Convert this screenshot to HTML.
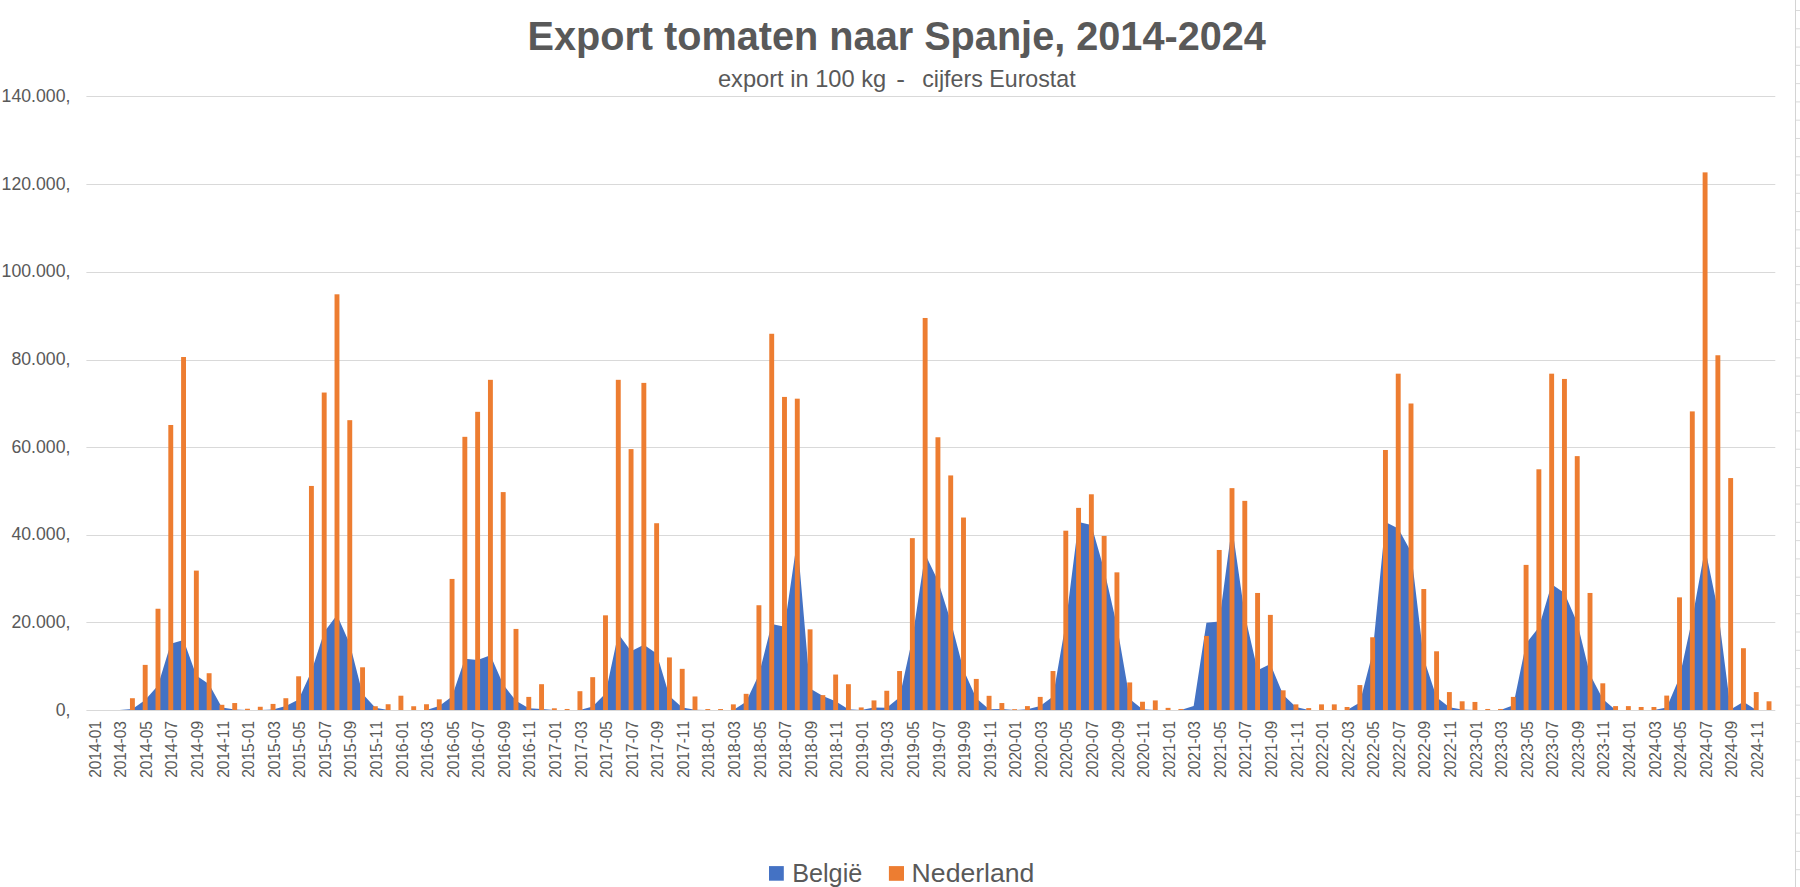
<!DOCTYPE html>
<html><head><meta charset="utf-8"><title>Export tomaten naar Spanje, 2014-2024</title>
<style>
html,body{margin:0;padding:0;background:#fff;}
body{width:1800px;height:887px;overflow:hidden;position:relative;}
svg{position:absolute;left:0;top:0;}
text{font-family:"Liberation Sans",Arial,sans-serif;fill:#595959;white-space:pre;font-kerning:none;}
</style></head><body>
<svg width="1800" height="887" viewBox="0 0 1800 887">
<rect x="86.4" y="710" width="1688.9" height="1" fill="#d9d9d9"/>
<rect x="86.4" y="622" width="1688.9" height="1" fill="#d9d9d9"/>
<rect x="86.4" y="535" width="1688.9" height="1" fill="#d9d9d9"/>
<rect x="86.4" y="447" width="1688.9" height="1" fill="#d9d9d9"/>
<rect x="86.4" y="360" width="1688.9" height="1" fill="#d9d9d9"/>
<rect x="86.4" y="272" width="1688.9" height="1" fill="#d9d9d9"/>
<rect x="86.4" y="184" width="1688.9" height="1" fill="#d9d9d9"/>
<rect x="86.4" y="96" width="1688.9" height="1" fill="#d9d9d9"/>
<polygon points="94.05,710.00 94.05,710.00 106.84,710.00 119.62,710.00 132.41,708.97 145.19,699.97 157.98,685.50 170.77,643.84 183.55,639.89 196.34,675.41 209.12,684.19 221.91,707.43 234.70,709.62 247.48,710.00 260.27,710.00 273.05,709.62 285.84,706.11 298.63,699.54 311.41,671.47 324.20,632.00 336.98,614.89 349.77,643.84 362.56,693.83 375.34,707.87 388.13,710.00 400.91,710.00 413.70,710.00 426.49,710.00 439.27,706.11 452.06,696.47 464.84,658.75 477.63,660.06 490.42,655.24 503.20,684.62 515.99,700.85 528.77,708.31 541.56,708.97 554.35,710.00 567.13,710.00 579.92,710.00 592.70,706.55 605.49,693.40 618.28,633.75 631.06,651.29 643.85,644.71 656.63,653.49 669.42,696.03 682.21,707.43 694.99,709.84 707.78,710.00 720.56,710.00 733.35,710.00 746.14,701.73 758.92,674.54 771.71,624.10 784.49,626.73 797.28,539.46 810.07,688.57 822.85,696.03 835.64,701.29 848.42,709.18 861.21,710.00 874.00,707.43 886.78,707.87 899.57,697.34 912.35,638.57 925.14,553.93 937.93,580.68 950.71,621.03 963.50,669.71 976.28,698.22 989.07,709.18 1001.86,708.97 1014.64,710.00 1027.43,709.18 1040.21,706.11 1053.00,696.47 1065.79,622.79 1078.57,521.91 1091.36,524.98 1104.14,569.72 1116.93,625.42 1129.72,699.10 1142.50,709.18 1155.29,710.00 1168.07,710.00 1180.86,710.00 1193.65,706.11 1206.43,622.79 1219.22,621.47 1232.00,526.30 1244.79,614.89 1257.58,670.15 1270.36,664.01 1283.15,694.71 1295.93,706.99 1308.72,710.00 1321.51,710.00 1334.29,710.00 1347.08,710.00 1359.86,702.61 1372.65,652.61 1385.44,521.91 1398.22,528.49 1411.01,551.74 1423.79,658.75 1436.58,697.34 1449.37,707.21 1462.15,709.62 1474.94,710.00 1487.72,710.00 1500.51,710.00 1513.30,705.24 1526.08,643.40 1538.87,627.17 1551.65,584.19 1564.44,592.96 1577.23,622.79 1590.01,674.54 1602.80,699.10 1615.58,710.00 1628.37,710.00 1641.16,710.00 1653.94,710.00 1666.73,707.43 1679.51,677.61 1692.30,618.40 1705.09,548.23 1717.87,609.63 1730.66,709.62 1743.44,701.73 1756.23,710.00 1769.02,710.00 1769.02,710.00" fill="#4472c4"/>
<rect x="129.96" y="698.22" width="4.9" height="11.78" fill="#ed7d31"/>
<rect x="142.74" y="664.89" width="4.9" height="45.11" fill="#ed7d31"/>
<rect x="155.53" y="608.75" width="4.9" height="101.25" fill="#ed7d31"/>
<rect x="168.32" y="424.99" width="4.9" height="285.01" fill="#ed7d31"/>
<rect x="181.10" y="357.01" width="4.9" height="352.99" fill="#ed7d31"/>
<rect x="193.89" y="570.60" width="4.9" height="139.40" fill="#ed7d31"/>
<rect x="206.67" y="673.22" width="4.9" height="36.78" fill="#ed7d31"/>
<rect x="219.46" y="704.80" width="4.9" height="5.20" fill="#ed7d31"/>
<rect x="232.25" y="703.04" width="4.9" height="6.96" fill="#ed7d31"/>
<rect x="245.03" y="708.75" width="4.9" height="1.25" fill="#ed7d31"/>
<rect x="257.82" y="706.77" width="4.9" height="3.23" fill="#ed7d31"/>
<rect x="270.60" y="703.92" width="4.9" height="6.08" fill="#ed7d31"/>
<rect x="283.39" y="698.22" width="4.9" height="11.78" fill="#ed7d31"/>
<rect x="296.18" y="676.29" width="4.9" height="33.71" fill="#ed7d31"/>
<rect x="308.96" y="485.95" width="4.9" height="224.05" fill="#ed7d31"/>
<rect x="321.75" y="392.54" width="4.9" height="317.46" fill="#ed7d31"/>
<rect x="334.53" y="294.30" width="4.9" height="415.70" fill="#ed7d31"/>
<rect x="347.32" y="420.17" width="4.9" height="289.83" fill="#ed7d31"/>
<rect x="360.11" y="667.30" width="4.9" height="42.70" fill="#ed7d31"/>
<rect x="372.89" y="706.25" width="4.9" height="3.75" fill="#ed7d31"/>
<rect x="385.68" y="704.23" width="4.9" height="5.77" fill="#ed7d31"/>
<rect x="398.46" y="695.72" width="4.9" height="14.28" fill="#ed7d31"/>
<rect x="411.25" y="706.25" width="4.9" height="3.75" fill="#ed7d31"/>
<rect x="424.04" y="704.23" width="4.9" height="5.77" fill="#ed7d31"/>
<rect x="436.82" y="699.32" width="4.9" height="10.68" fill="#ed7d31"/>
<rect x="449.61" y="578.93" width="4.9" height="131.07" fill="#ed7d31"/>
<rect x="462.39" y="436.83" width="4.9" height="273.17" fill="#ed7d31"/>
<rect x="475.18" y="411.83" width="4.9" height="298.17" fill="#ed7d31"/>
<rect x="487.97" y="379.82" width="4.9" height="330.18" fill="#ed7d31"/>
<rect x="500.75" y="492.09" width="4.9" height="217.91" fill="#ed7d31"/>
<rect x="513.54" y="628.93" width="4.9" height="81.07" fill="#ed7d31"/>
<rect x="526.32" y="696.90" width="4.9" height="13.10" fill="#ed7d31"/>
<rect x="539.11" y="684.19" width="4.9" height="25.81" fill="#ed7d31"/>
<rect x="551.90" y="708.31" width="4.9" height="1.69" fill="#ed7d31"/>
<rect x="564.68" y="708.97" width="4.9" height="1.03" fill="#ed7d31"/>
<rect x="577.47" y="691.20" width="4.9" height="18.80" fill="#ed7d31"/>
<rect x="590.25" y="677.17" width="4.9" height="32.83" fill="#ed7d31"/>
<rect x="603.04" y="615.33" width="4.9" height="94.67" fill="#ed7d31"/>
<rect x="615.83" y="379.82" width="4.9" height="330.18" fill="#ed7d31"/>
<rect x="628.61" y="449.11" width="4.9" height="260.89" fill="#ed7d31"/>
<rect x="641.40" y="382.89" width="4.9" height="327.11" fill="#ed7d31"/>
<rect x="654.18" y="523.23" width="4.9" height="186.77" fill="#ed7d31"/>
<rect x="666.97" y="657.43" width="4.9" height="52.57" fill="#ed7d31"/>
<rect x="679.76" y="668.84" width="4.9" height="41.16" fill="#ed7d31"/>
<rect x="692.54" y="696.47" width="4.9" height="13.53" fill="#ed7d31"/>
<rect x="705.33" y="709.05" width="4.9" height="0.95" fill="#ed7d31"/>
<rect x="718.11" y="709.05" width="4.9" height="0.95" fill="#ed7d31"/>
<rect x="730.90" y="704.36" width="4.9" height="5.64" fill="#ed7d31"/>
<rect x="743.69" y="693.83" width="4.9" height="16.17" fill="#ed7d31"/>
<rect x="756.47" y="605.24" width="4.9" height="104.76" fill="#ed7d31"/>
<rect x="769.26" y="333.77" width="4.9" height="376.23" fill="#ed7d31"/>
<rect x="782.04" y="396.92" width="4.9" height="313.08" fill="#ed7d31"/>
<rect x="794.83" y="398.68" width="4.9" height="311.32" fill="#ed7d31"/>
<rect x="807.62" y="629.36" width="4.9" height="80.64" fill="#ed7d31"/>
<rect x="820.40" y="695.15" width="4.9" height="14.85" fill="#ed7d31"/>
<rect x="833.19" y="674.54" width="4.9" height="35.46" fill="#ed7d31"/>
<rect x="845.97" y="684.19" width="4.9" height="25.81" fill="#ed7d31"/>
<rect x="858.76" y="707.43" width="4.9" height="2.57" fill="#ed7d31"/>
<rect x="871.55" y="700.41" width="4.9" height="9.59" fill="#ed7d31"/>
<rect x="884.33" y="690.76" width="4.9" height="19.24" fill="#ed7d31"/>
<rect x="897.12" y="671.03" width="4.9" height="38.97" fill="#ed7d31"/>
<rect x="909.90" y="538.14" width="4.9" height="171.86" fill="#ed7d31"/>
<rect x="922.69" y="317.98" width="4.9" height="392.02" fill="#ed7d31"/>
<rect x="935.48" y="437.27" width="4.9" height="272.73" fill="#ed7d31"/>
<rect x="948.26" y="475.43" width="4.9" height="234.57" fill="#ed7d31"/>
<rect x="961.05" y="517.53" width="4.9" height="192.47" fill="#ed7d31"/>
<rect x="973.83" y="678.92" width="4.9" height="31.08" fill="#ed7d31"/>
<rect x="986.62" y="695.81" width="4.9" height="14.19" fill="#ed7d31"/>
<rect x="999.41" y="703.04" width="4.9" height="6.96" fill="#ed7d31"/>
<rect x="1012.19" y="709.18" width="4.9" height="0.82" fill="#ed7d31"/>
<rect x="1024.98" y="706.11" width="4.9" height="3.89" fill="#ed7d31"/>
<rect x="1037.76" y="696.90" width="4.9" height="13.10" fill="#ed7d31"/>
<rect x="1050.55" y="671.03" width="4.9" height="38.97" fill="#ed7d31"/>
<rect x="1063.34" y="530.69" width="4.9" height="179.31" fill="#ed7d31"/>
<rect x="1076.12" y="507.88" width="4.9" height="202.12" fill="#ed7d31"/>
<rect x="1088.91" y="494.28" width="4.9" height="215.72" fill="#ed7d31"/>
<rect x="1101.69" y="535.95" width="4.9" height="174.05" fill="#ed7d31"/>
<rect x="1114.48" y="572.35" width="4.9" height="137.65" fill="#ed7d31"/>
<rect x="1127.27" y="682.43" width="4.9" height="27.57" fill="#ed7d31"/>
<rect x="1140.05" y="701.73" width="4.9" height="8.27" fill="#ed7d31"/>
<rect x="1152.84" y="700.41" width="4.9" height="9.59" fill="#ed7d31"/>
<rect x="1165.62" y="707.87" width="4.9" height="2.13" fill="#ed7d31"/>
<rect x="1178.41" y="708.97" width="4.9" height="1.03" fill="#ed7d31"/>
<rect x="1203.98" y="635.94" width="4.9" height="74.06" fill="#ed7d31"/>
<rect x="1216.77" y="549.98" width="4.9" height="160.02" fill="#ed7d31"/>
<rect x="1229.55" y="488.15" width="4.9" height="221.85" fill="#ed7d31"/>
<rect x="1242.34" y="500.86" width="4.9" height="209.14" fill="#ed7d31"/>
<rect x="1255.13" y="592.96" width="4.9" height="117.04" fill="#ed7d31"/>
<rect x="1267.91" y="614.89" width="4.9" height="95.11" fill="#ed7d31"/>
<rect x="1280.70" y="690.33" width="4.9" height="19.67" fill="#ed7d31"/>
<rect x="1293.48" y="704.36" width="4.9" height="5.64" fill="#ed7d31"/>
<rect x="1306.27" y="708.09" width="4.9" height="1.91" fill="#ed7d31"/>
<rect x="1319.06" y="704.36" width="4.9" height="5.64" fill="#ed7d31"/>
<rect x="1331.84" y="704.36" width="4.9" height="5.64" fill="#ed7d31"/>
<rect x="1344.63" y="706.99" width="4.9" height="3.01" fill="#ed7d31"/>
<rect x="1357.41" y="685.06" width="4.9" height="24.94" fill="#ed7d31"/>
<rect x="1370.20" y="637.26" width="4.9" height="72.74" fill="#ed7d31"/>
<rect x="1382.99" y="449.99" width="4.9" height="260.01" fill="#ed7d31"/>
<rect x="1395.77" y="373.68" width="4.9" height="336.32" fill="#ed7d31"/>
<rect x="1408.56" y="403.50" width="4.9" height="306.50" fill="#ed7d31"/>
<rect x="1421.34" y="589.02" width="4.9" height="120.98" fill="#ed7d31"/>
<rect x="1434.13" y="651.29" width="4.9" height="58.71" fill="#ed7d31"/>
<rect x="1446.92" y="692.08" width="4.9" height="17.92" fill="#ed7d31"/>
<rect x="1459.70" y="701.29" width="4.9" height="8.71" fill="#ed7d31"/>
<rect x="1472.49" y="701.95" width="4.9" height="8.05" fill="#ed7d31"/>
<rect x="1485.27" y="708.97" width="4.9" height="1.03" fill="#ed7d31"/>
<rect x="1498.06" y="708.97" width="4.9" height="1.03" fill="#ed7d31"/>
<rect x="1510.85" y="696.90" width="4.9" height="13.10" fill="#ed7d31"/>
<rect x="1523.63" y="564.89" width="4.9" height="145.11" fill="#ed7d31"/>
<rect x="1536.42" y="469.29" width="4.9" height="240.71" fill="#ed7d31"/>
<rect x="1549.20" y="373.68" width="4.9" height="336.32" fill="#ed7d31"/>
<rect x="1561.99" y="378.94" width="4.9" height="331.06" fill="#ed7d31"/>
<rect x="1574.78" y="456.13" width="4.9" height="253.87" fill="#ed7d31"/>
<rect x="1587.56" y="592.96" width="4.9" height="117.04" fill="#ed7d31"/>
<rect x="1600.35" y="683.31" width="4.9" height="26.69" fill="#ed7d31"/>
<rect x="1613.13" y="706.11" width="4.9" height="3.89" fill="#ed7d31"/>
<rect x="1625.92" y="706.11" width="4.9" height="3.89" fill="#ed7d31"/>
<rect x="1638.71" y="706.99" width="4.9" height="3.01" fill="#ed7d31"/>
<rect x="1651.49" y="706.99" width="4.9" height="3.01" fill="#ed7d31"/>
<rect x="1664.28" y="695.59" width="4.9" height="14.41" fill="#ed7d31"/>
<rect x="1677.06" y="597.35" width="4.9" height="112.65" fill="#ed7d31"/>
<rect x="1689.85" y="411.40" width="4.9" height="298.60" fill="#ed7d31"/>
<rect x="1702.64" y="172.37" width="4.9" height="537.63" fill="#ed7d31"/>
<rect x="1715.42" y="355.26" width="4.9" height="354.74" fill="#ed7d31"/>
<rect x="1728.21" y="478.06" width="4.9" height="231.94" fill="#ed7d31"/>
<rect x="1740.99" y="648.22" width="4.9" height="61.78" fill="#ed7d31"/>
<rect x="1753.78" y="692.08" width="4.9" height="17.92" fill="#ed7d31"/>
<rect x="1766.57" y="701.29" width="4.9" height="8.71" fill="#ed7d31"/>
<text x="55.65" y="715.80" font-size="18.2" textLength="14.74" lengthAdjust="spacingAndGlyphs">0,</text>
<text x="11.43" y="628.09" font-size="18.2" textLength="58.96" lengthAdjust="spacingAndGlyphs">20.000,</text>
<text x="11.43" y="540.37" font-size="18.2" textLength="58.96" lengthAdjust="spacingAndGlyphs">40.000,</text>
<text x="11.43" y="452.66" font-size="18.2" textLength="58.96" lengthAdjust="spacingAndGlyphs">60.000,</text>
<text x="11.43" y="364.94" font-size="18.2" textLength="58.96" lengthAdjust="spacingAndGlyphs">80.000,</text>
<text x="1.60" y="277.23" font-size="18.2" textLength="68.79" lengthAdjust="spacingAndGlyphs">100.000,</text>
<text x="1.60" y="189.52" font-size="18.2" textLength="68.79" lengthAdjust="spacingAndGlyphs">120.000,</text>
<text x="1.60" y="101.80" font-size="18.2" textLength="68.79" lengthAdjust="spacingAndGlyphs">140.000,</text>
<text transform="translate(100.65,777.78) rotate(-90)" x="0" y="0" font-size="16.1" textLength="56.84" lengthAdjust="spacingAndGlyphs">2014-01</text>
<text transform="translate(126.22,777.86) rotate(-90)" x="0" y="0" font-size="16.1" textLength="56.84" lengthAdjust="spacingAndGlyphs">2014-03</text>
<text transform="translate(151.79,777.89) rotate(-90)" x="0" y="0" font-size="16.1" textLength="56.84" lengthAdjust="spacingAndGlyphs">2014-05</text>
<text transform="translate(177.37,777.76) rotate(-90)" x="0" y="0" font-size="16.1" textLength="56.84" lengthAdjust="spacingAndGlyphs">2014-07</text>
<text transform="translate(202.94,777.81) rotate(-90)" x="0" y="0" font-size="16.1" textLength="56.84" lengthAdjust="spacingAndGlyphs">2014-09</text>
<text transform="translate(228.51,777.78) rotate(-90)" x="0" y="0" font-size="16.1" textLength="56.84" lengthAdjust="spacingAndGlyphs">2014-11</text>
<text transform="translate(254.08,777.78) rotate(-90)" x="0" y="0" font-size="16.1" textLength="56.84" lengthAdjust="spacingAndGlyphs">2015-01</text>
<text transform="translate(279.65,777.86) rotate(-90)" x="0" y="0" font-size="16.1" textLength="56.84" lengthAdjust="spacingAndGlyphs">2015-03</text>
<text transform="translate(305.23,777.89) rotate(-90)" x="0" y="0" font-size="16.1" textLength="56.84" lengthAdjust="spacingAndGlyphs">2015-05</text>
<text transform="translate(330.80,777.76) rotate(-90)" x="0" y="0" font-size="16.1" textLength="56.84" lengthAdjust="spacingAndGlyphs">2015-07</text>
<text transform="translate(356.37,777.81) rotate(-90)" x="0" y="0" font-size="16.1" textLength="56.84" lengthAdjust="spacingAndGlyphs">2015-09</text>
<text transform="translate(381.94,777.78) rotate(-90)" x="0" y="0" font-size="16.1" textLength="56.84" lengthAdjust="spacingAndGlyphs">2015-11</text>
<text transform="translate(407.51,777.78) rotate(-90)" x="0" y="0" font-size="16.1" textLength="56.84" lengthAdjust="spacingAndGlyphs">2016-01</text>
<text transform="translate(433.09,777.86) rotate(-90)" x="0" y="0" font-size="16.1" textLength="56.84" lengthAdjust="spacingAndGlyphs">2016-03</text>
<text transform="translate(458.66,777.89) rotate(-90)" x="0" y="0" font-size="16.1" textLength="56.84" lengthAdjust="spacingAndGlyphs">2016-05</text>
<text transform="translate(484.23,777.76) rotate(-90)" x="0" y="0" font-size="16.1" textLength="56.84" lengthAdjust="spacingAndGlyphs">2016-07</text>
<text transform="translate(509.80,777.81) rotate(-90)" x="0" y="0" font-size="16.1" textLength="56.84" lengthAdjust="spacingAndGlyphs">2016-09</text>
<text transform="translate(535.37,777.78) rotate(-90)" x="0" y="0" font-size="16.1" textLength="56.84" lengthAdjust="spacingAndGlyphs">2016-11</text>
<text transform="translate(560.95,777.78) rotate(-90)" x="0" y="0" font-size="16.1" textLength="56.84" lengthAdjust="spacingAndGlyphs">2017-01</text>
<text transform="translate(586.52,777.86) rotate(-90)" x="0" y="0" font-size="16.1" textLength="56.84" lengthAdjust="spacingAndGlyphs">2017-03</text>
<text transform="translate(612.09,777.89) rotate(-90)" x="0" y="0" font-size="16.1" textLength="56.84" lengthAdjust="spacingAndGlyphs">2017-05</text>
<text transform="translate(637.66,777.76) rotate(-90)" x="0" y="0" font-size="16.1" textLength="56.84" lengthAdjust="spacingAndGlyphs">2017-07</text>
<text transform="translate(663.23,777.81) rotate(-90)" x="0" y="0" font-size="16.1" textLength="56.84" lengthAdjust="spacingAndGlyphs">2017-09</text>
<text transform="translate(688.81,777.78) rotate(-90)" x="0" y="0" font-size="16.1" textLength="56.84" lengthAdjust="spacingAndGlyphs">2017-11</text>
<text transform="translate(714.38,777.78) rotate(-90)" x="0" y="0" font-size="16.1" textLength="56.84" lengthAdjust="spacingAndGlyphs">2018-01</text>
<text transform="translate(739.95,777.86) rotate(-90)" x="0" y="0" font-size="16.1" textLength="56.84" lengthAdjust="spacingAndGlyphs">2018-03</text>
<text transform="translate(765.52,777.89) rotate(-90)" x="0" y="0" font-size="16.1" textLength="56.84" lengthAdjust="spacingAndGlyphs">2018-05</text>
<text transform="translate(791.09,777.76) rotate(-90)" x="0" y="0" font-size="16.1" textLength="56.84" lengthAdjust="spacingAndGlyphs">2018-07</text>
<text transform="translate(816.67,777.81) rotate(-90)" x="0" y="0" font-size="16.1" textLength="56.84" lengthAdjust="spacingAndGlyphs">2018-09</text>
<text transform="translate(842.24,777.78) rotate(-90)" x="0" y="0" font-size="16.1" textLength="56.84" lengthAdjust="spacingAndGlyphs">2018-11</text>
<text transform="translate(867.81,777.78) rotate(-90)" x="0" y="0" font-size="16.1" textLength="56.84" lengthAdjust="spacingAndGlyphs">2019-01</text>
<text transform="translate(893.38,777.86) rotate(-90)" x="0" y="0" font-size="16.1" textLength="56.84" lengthAdjust="spacingAndGlyphs">2019-03</text>
<text transform="translate(918.95,777.89) rotate(-90)" x="0" y="0" font-size="16.1" textLength="56.84" lengthAdjust="spacingAndGlyphs">2019-05</text>
<text transform="translate(944.53,777.76) rotate(-90)" x="0" y="0" font-size="16.1" textLength="56.84" lengthAdjust="spacingAndGlyphs">2019-07</text>
<text transform="translate(970.10,777.81) rotate(-90)" x="0" y="0" font-size="16.1" textLength="56.84" lengthAdjust="spacingAndGlyphs">2019-09</text>
<text transform="translate(995.67,777.78) rotate(-90)" x="0" y="0" font-size="16.1" textLength="56.84" lengthAdjust="spacingAndGlyphs">2019-11</text>
<text transform="translate(1021.24,777.78) rotate(-90)" x="0" y="0" font-size="16.1" textLength="56.84" lengthAdjust="spacingAndGlyphs">2020-01</text>
<text transform="translate(1046.81,777.86) rotate(-90)" x="0" y="0" font-size="16.1" textLength="56.84" lengthAdjust="spacingAndGlyphs">2020-03</text>
<text transform="translate(1072.39,777.89) rotate(-90)" x="0" y="0" font-size="16.1" textLength="56.84" lengthAdjust="spacingAndGlyphs">2020-05</text>
<text transform="translate(1097.96,777.76) rotate(-90)" x="0" y="0" font-size="16.1" textLength="56.84" lengthAdjust="spacingAndGlyphs">2020-07</text>
<text transform="translate(1123.53,777.81) rotate(-90)" x="0" y="0" font-size="16.1" textLength="56.84" lengthAdjust="spacingAndGlyphs">2020-09</text>
<text transform="translate(1149.10,777.78) rotate(-90)" x="0" y="0" font-size="16.1" textLength="56.84" lengthAdjust="spacingAndGlyphs">2020-11</text>
<text transform="translate(1174.67,777.78) rotate(-90)" x="0" y="0" font-size="16.1" textLength="56.84" lengthAdjust="spacingAndGlyphs">2021-01</text>
<text transform="translate(1200.25,777.86) rotate(-90)" x="0" y="0" font-size="16.1" textLength="56.84" lengthAdjust="spacingAndGlyphs">2021-03</text>
<text transform="translate(1225.82,777.89) rotate(-90)" x="0" y="0" font-size="16.1" textLength="56.84" lengthAdjust="spacingAndGlyphs">2021-05</text>
<text transform="translate(1251.39,777.76) rotate(-90)" x="0" y="0" font-size="16.1" textLength="56.84" lengthAdjust="spacingAndGlyphs">2021-07</text>
<text transform="translate(1276.96,777.81) rotate(-90)" x="0" y="0" font-size="16.1" textLength="56.84" lengthAdjust="spacingAndGlyphs">2021-09</text>
<text transform="translate(1302.53,777.78) rotate(-90)" x="0" y="0" font-size="16.1" textLength="56.84" lengthAdjust="spacingAndGlyphs">2021-11</text>
<text transform="translate(1328.11,777.78) rotate(-90)" x="0" y="0" font-size="16.1" textLength="56.84" lengthAdjust="spacingAndGlyphs">2022-01</text>
<text transform="translate(1353.68,777.86) rotate(-90)" x="0" y="0" font-size="16.1" textLength="56.84" lengthAdjust="spacingAndGlyphs">2022-03</text>
<text transform="translate(1379.25,777.89) rotate(-90)" x="0" y="0" font-size="16.1" textLength="56.84" lengthAdjust="spacingAndGlyphs">2022-05</text>
<text transform="translate(1404.82,777.76) rotate(-90)" x="0" y="0" font-size="16.1" textLength="56.84" lengthAdjust="spacingAndGlyphs">2022-07</text>
<text transform="translate(1430.39,777.81) rotate(-90)" x="0" y="0" font-size="16.1" textLength="56.84" lengthAdjust="spacingAndGlyphs">2022-09</text>
<text transform="translate(1455.97,777.78) rotate(-90)" x="0" y="0" font-size="16.1" textLength="56.84" lengthAdjust="spacingAndGlyphs">2022-11</text>
<text transform="translate(1481.54,777.78) rotate(-90)" x="0" y="0" font-size="16.1" textLength="56.84" lengthAdjust="spacingAndGlyphs">2023-01</text>
<text transform="translate(1507.11,777.86) rotate(-90)" x="0" y="0" font-size="16.1" textLength="56.84" lengthAdjust="spacingAndGlyphs">2023-03</text>
<text transform="translate(1532.68,777.89) rotate(-90)" x="0" y="0" font-size="16.1" textLength="56.84" lengthAdjust="spacingAndGlyphs">2023-05</text>
<text transform="translate(1558.25,777.76) rotate(-90)" x="0" y="0" font-size="16.1" textLength="56.84" lengthAdjust="spacingAndGlyphs">2023-07</text>
<text transform="translate(1583.83,777.81) rotate(-90)" x="0" y="0" font-size="16.1" textLength="56.84" lengthAdjust="spacingAndGlyphs">2023-09</text>
<text transform="translate(1609.40,777.78) rotate(-90)" x="0" y="0" font-size="16.1" textLength="56.84" lengthAdjust="spacingAndGlyphs">2023-11</text>
<text transform="translate(1634.97,777.78) rotate(-90)" x="0" y="0" font-size="16.1" textLength="56.84" lengthAdjust="spacingAndGlyphs">2024-01</text>
<text transform="translate(1660.54,777.86) rotate(-90)" x="0" y="0" font-size="16.1" textLength="56.84" lengthAdjust="spacingAndGlyphs">2024-03</text>
<text transform="translate(1686.11,777.89) rotate(-90)" x="0" y="0" font-size="16.1" textLength="56.84" lengthAdjust="spacingAndGlyphs">2024-05</text>
<text transform="translate(1711.69,777.76) rotate(-90)" x="0" y="0" font-size="16.1" textLength="56.84" lengthAdjust="spacingAndGlyphs">2024-07</text>
<text transform="translate(1737.26,777.81) rotate(-90)" x="0" y="0" font-size="16.1" textLength="56.84" lengthAdjust="spacingAndGlyphs">2024-09</text>
<text transform="translate(1762.83,777.78) rotate(-90)" x="0" y="0" font-size="16.1" textLength="56.84" lengthAdjust="spacingAndGlyphs">2024-11</text>
<text x="527.45" y="49.70" font-size="41.4" font-weight="bold" textLength="738.47" lengthAdjust="spacingAndGlyphs">Export tomaten naar Spanje, 2014-2024</text>
<text x="717.90" y="86.80" font-size="24.3" textLength="168.33" lengthAdjust="spacingAndGlyphs">export in 100 kg</text>
<text x="896.34" y="86.80" font-size="24.3" textLength="8.73" lengthAdjust="spacingAndGlyphs">-</text>
<text x="922.21" y="86.80" font-size="24.3" textLength="153.46" lengthAdjust="spacingAndGlyphs">cijfers Eurostat</text>
<rect x="769.0" y="866.1" width="14.8" height="14.6" fill="#4472c4"/>
<rect x="888.9" y="866.1" width="15.1" height="14.7" fill="#ed7d31"/>
<text x="792.13" y="881.80" font-size="25.7" textLength="70.19" lengthAdjust="spacingAndGlyphs">België</text>
<text x="911.62" y="881.80" font-size="25.7" textLength="122.80" lengthAdjust="spacingAndGlyphs">Nederland</text>
<rect x="1795" y="0" width="1" height="887" fill="#d4d4d4"/>
<rect x="1796" y="10.00" width="4" height="1" fill="#dadada"/>
<rect x="1796" y="28.28" width="4" height="1" fill="#dadada"/>
<rect x="1796" y="46.56" width="4" height="1" fill="#dadada"/>
<rect x="1796" y="64.84" width="4" height="1" fill="#dadada"/>
<rect x="1796" y="83.12" width="4" height="1" fill="#dadada"/>
<rect x="1796" y="101.40" width="4" height="1" fill="#dadada"/>
<rect x="1796" y="119.68" width="4" height="1" fill="#dadada"/>
<rect x="1796" y="137.96" width="4" height="1" fill="#dadada"/>
<rect x="1796" y="156.24" width="4" height="1" fill="#dadada"/>
<rect x="1796" y="174.52" width="4" height="1" fill="#dadada"/>
<rect x="1796" y="192.80" width="4" height="1" fill="#dadada"/>
<rect x="1796" y="211.08" width="4" height="1" fill="#dadada"/>
<rect x="1796" y="229.36" width="4" height="1" fill="#dadada"/>
<rect x="1796" y="247.64" width="4" height="1" fill="#dadada"/>
<rect x="1796" y="265.92" width="4" height="1" fill="#dadada"/>
<rect x="1796" y="284.20" width="4" height="1" fill="#dadada"/>
<rect x="1796" y="302.48" width="4" height="1" fill="#dadada"/>
<rect x="1796" y="320.76" width="4" height="1" fill="#dadada"/>
<rect x="1796" y="339.04" width="4" height="1" fill="#dadada"/>
<rect x="1796" y="357.32" width="4" height="1" fill="#dadada"/>
<rect x="1796" y="375.60" width="4" height="1" fill="#dadada"/>
<rect x="1796" y="393.88" width="4" height="1" fill="#dadada"/>
<rect x="1796" y="412.16" width="4" height="1" fill="#dadada"/>
<rect x="1796" y="430.44" width="4" height="1" fill="#dadada"/>
<rect x="1796" y="448.72" width="4" height="1" fill="#dadada"/>
<rect x="1796" y="467.00" width="4" height="1" fill="#dadada"/>
<rect x="1796" y="485.28" width="4" height="1" fill="#dadada"/>
<rect x="1796" y="503.56" width="4" height="1" fill="#dadada"/>
<rect x="1796" y="521.84" width="4" height="1" fill="#dadada"/>
<rect x="1796" y="540.12" width="4" height="1" fill="#dadada"/>
<rect x="1796" y="558.40" width="4" height="1" fill="#dadada"/>
<rect x="1796" y="576.68" width="4" height="1" fill="#dadada"/>
<rect x="1796" y="594.96" width="4" height="1" fill="#dadada"/>
<rect x="1796" y="613.24" width="4" height="1" fill="#dadada"/>
<rect x="1796" y="631.52" width="4" height="1" fill="#dadada"/>
<rect x="1796" y="649.80" width="4" height="1" fill="#dadada"/>
<rect x="1796" y="668.08" width="4" height="1" fill="#dadada"/>
<rect x="1796" y="686.36" width="4" height="1" fill="#dadada"/>
<rect x="1796" y="704.64" width="4" height="1" fill="#dadada"/>
<rect x="1796" y="722.92" width="4" height="1" fill="#dadada"/>
<rect x="1796" y="741.20" width="4" height="1" fill="#dadada"/>
<rect x="1796" y="759.48" width="4" height="1" fill="#dadada"/>
<rect x="1796" y="777.76" width="4" height="1" fill="#dadada"/>
<rect x="1796" y="796.04" width="4" height="1" fill="#dadada"/>
<rect x="1796" y="814.32" width="4" height="1" fill="#dadada"/>
<rect x="1796" y="832.60" width="4" height="1" fill="#dadada"/>
<rect x="1796" y="850.88" width="4" height="1" fill="#dadada"/>
<rect x="1796" y="869.16" width="4" height="1" fill="#dadada"/>
</svg>
</body></html>
